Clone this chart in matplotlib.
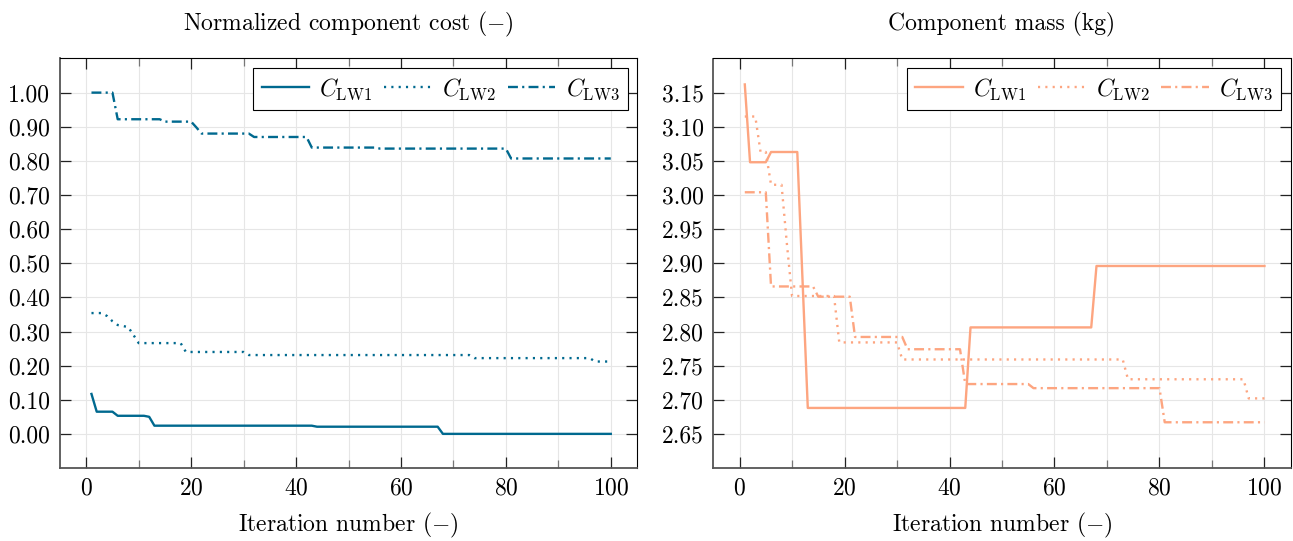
import numpy as np
import matplotlib
matplotlib.use("Agg")
import matplotlib.pyplot as plt
from matplotlib.ticker import FixedLocator, FormatStrFormatter

plt.rcParams['font.family'] = ['cmr10', 'DejaVu Serif']
plt.rcParams['mathtext.fontset'] = 'cm'
plt.rcParams['axes.formatter.use_mathtext'] = True
plt.rcParams['axes.unicode_minus'] = False

# ---- data (step values and run lengths, iterations 1..100) ----
iterations = np.arange(1, 101)

cost_lw1_vals = [0.117, 0.065, 0.053, 0.050, 0.024, 0.021, 0.000]
cost_lw1_runs = [1, 4, 6, 1, 31, 24, 33]
cost_lw2_vals = [0.354, 0.345, 0.330, 0.319, 0.316, 0.313, 0.290, 0.266, 0.240, 0.231, 0.222, 0.212]
cost_lw2_runs = [3, 1, 1, 1, 1, 1, 1, 9, 12, 43, 23, 4]
cost_lw3_vals = [1.000, 0.922, 0.915, 0.898, 0.880, 0.870, 0.839, 0.836, 0.807]
cost_lw3_runs = [5, 9, 6, 1, 10, 11, 13, 25, 20]

mass_lw1_vals = [3.162, 3.048, 3.063, 2.875, 2.688, 2.806, 2.896]
mass_lw1_runs = [1, 4, 6, 1, 31, 24, 33]
mass_lw2_vals = [3.115, 3.063, 3.015, 2.930, 2.852, 2.784, 2.759, 2.730, 2.702]
mass_lw2_runs = [3, 2, 3, 1, 9, 12, 43, 23, 4]
mass_lw3_vals = [3.004, 2.866, 2.851, 2.792, 2.774, 2.723, 2.717, 2.667]
mass_lw3_runs = [5, 9, 7, 10, 11, 13, 25, 20]

cost_yticks = [0.00, 0.10, 0.20, 0.30, 0.40, 0.50, 0.60, 0.70, 0.80, 0.90, 1.00]
mass_yticks = [2.65, 2.70, 2.75, 2.80, 2.85, 2.90, 2.95, 3.00, 3.05, 3.10, 3.15]
xticks = [0, 20, 40, 60, 80, 100]
xminor = [10, 30, 50, 70, 90]

labels = [r'$C_{\mathrm{LW1}}$', r'$C_{\mathrm{LW2}}$', r'$C_{\mathrm{LW3}}$']
titles = [r'Normalized component cost $(-)$', 'Component mass (kg)']
xlabel = r'Iteration number $(-)$'

cost_series = [np.repeat(cost_lw1_vals, cost_lw1_runs),
               np.repeat(cost_lw2_vals, cost_lw2_runs),
               np.repeat(cost_lw3_vals, cost_lw3_runs)]
mass_series = [np.repeat(mass_lw1_vals, mass_lw1_runs),
               np.repeat(mass_lw2_vals, mass_lw2_runs),
               np.repeat(mass_lw3_vals, mass_lw3_runs)]

blue = '#00698f'
salmon = '#fda580'
styles = ['-', (0, (0.9, 2.2)), (0, (4.2, 1.8, 0.9, 1.8))]

fig = plt.figure(figsize=(12.93, 5.41), dpi=100)
ax1 = fig.add_axes([60/1293, (541-468)/541, 577/1293, 409.5/541])
ax2 = fig.add_axes([713.3/1293, (541-468)/541, 577.4/1293, 409.5/541])

FS = 17

def style_axis(ax, ylim, yticks):
    ax.set_xlim(-5, 105)
    ax.set_ylim(*ylim)
    ax.xaxis.set_major_locator(FixedLocator(xticks))
    ax.xaxis.set_minor_locator(FixedLocator(xminor))
    ax.yaxis.set_major_locator(FixedLocator(yticks))
    ax.yaxis.set_major_formatter(FormatStrFormatter('%.2f'))
    ax.grid(True, which='both', axis='x', color='#e6e6e6', lw=0.8)
    ax.grid(True, which='major', axis='y', color='#e6e6e6', lw=0.8)
    ax.set_axisbelow(True)
    ax.tick_params(which='both', direction='in', top=True, right=True, labelsize=FS, pad=7)
    ax.tick_params(which='major', length=8, width=0.9, color='#222222')
    ax.tick_params(which='minor', length=5.5, width=0.9, color='#777777')
    for s in ['left', 'bottom']:
        ax.spines[s].set_color('#555555')
        ax.spines[s].set_linewidth(1.3)
    for s in ['top', 'right']:
        ax.spines[s].set_color('black')
        ax.spines[s].set_linewidth(0.8)
    ax.set_xlabel(xlabel, fontsize=FS, labelpad=8)

for ax, series, col, ylim, yt, title in [
        (ax1, cost_series, blue, (-0.1, 1.1), cost_yticks, titles[0]),
        (ax2, mass_series, salmon, (2.6, 3.2), mass_yticks, titles[1])]:
    for y, ls, lab in zip(series, styles, labels):
        ax.plot(iterations, y, color=col, linestyle=ls, lw=1.7, label=lab)
    style_axis(ax, ylim, yt)
    ax.set_title(title, fontsize=FS, pad=20)
    leg = ax.legend(loc='upper right', ncol=3, fontsize=FS, frameon=True, fancybox=False,
                    framealpha=1, edgecolor='black', handlelength=2.0, handletextpad=0.45,
                    columnspacing=0.5, borderaxespad=0.4, borderpad=0.35)
    leg.get_frame().set_linewidth(0.8)

fig.savefig('out.png', dpi=100)
